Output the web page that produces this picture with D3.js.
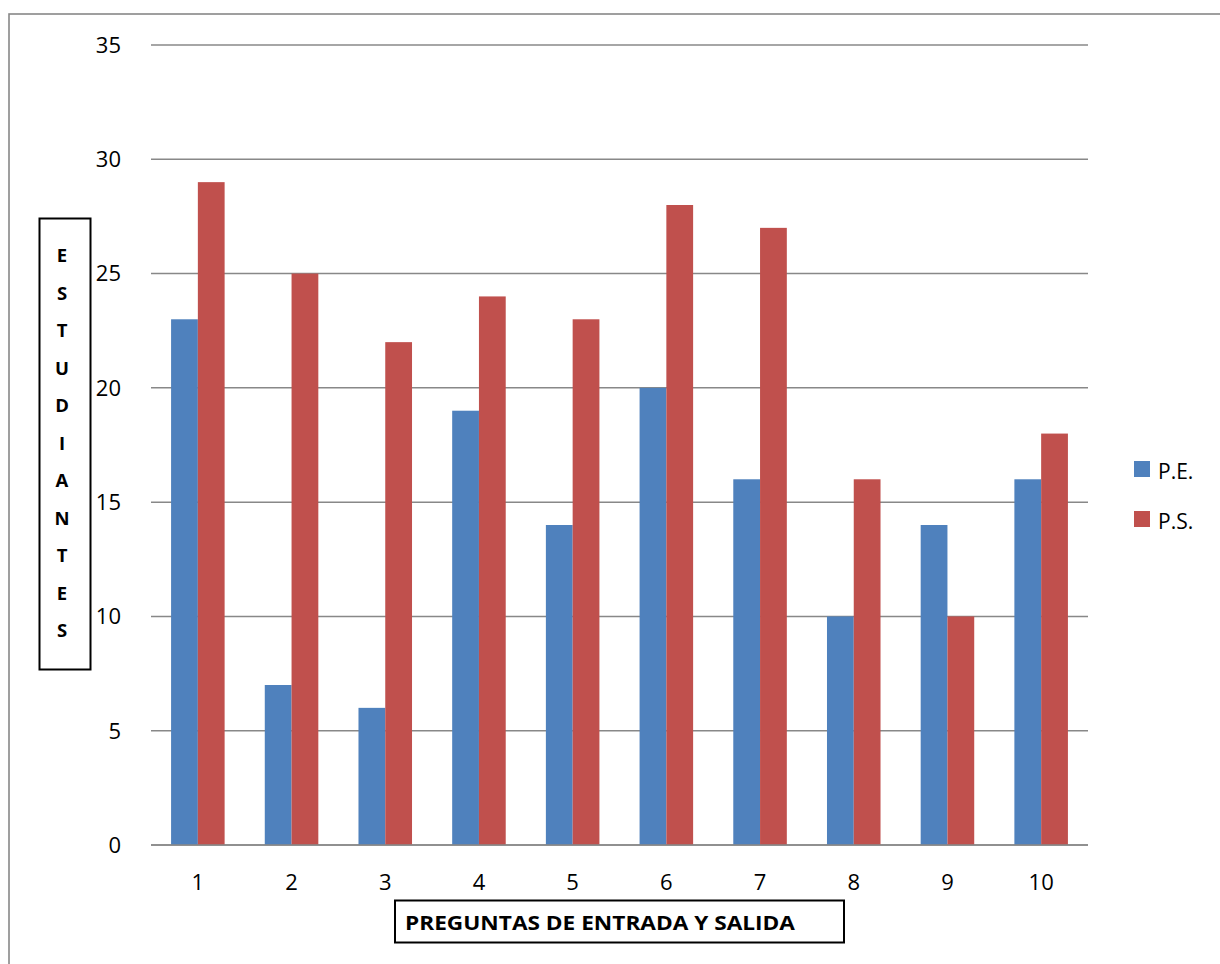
<!DOCTYPE html>
<html><head><meta charset="utf-8">
<script src="https://cdn.jsdelivr.net/npm/d3@7"></script>
<style>body{margin:0;background:#fff}svg{display:block}</style>
</head><body>
<script>
const categories = ["1","2","3","4","5","6","7","8","9","10"];
const seriesNames = ["P.E.","P.S."];
const peValues = [23,7,6,19,14,20,16,10,14,16];
const psValues = [29,25,22,24,23,28,27,16,10,18];
const yTicks = [0,5,10,15,20,25,30,35];
const colors = ["#4F81BD","#C0504D"];
const yTitle = "ESTUDIANTES";
const xTitle = "PREGUNTAS DE ENTRADA Y SALIDA";

(function(){
const W=1220,H=964;
const svg=d3.select("body").append("svg").attr("width",W).attr("height",H);
const font="'Open Sans', sans-serif";

// outer border (top & left visible)
svg.append("rect").attr("x",9).attr("y",14).attr("width",1300).attr("height",1100)
  .attr("fill","none").attr("stroke","#888").attr("stroke-width",1.6);

const pL=151,pR=1088,pT=45,pB=845;
const x=d3.scaleBand().domain(categories).range([pL,pR]);
const y=d3.scaleLinear().domain([0,35]).range([pB,pT]);
const inner=d3.scaleBand().domain([0,1]).range([0,x.bandwidth()]).paddingInner(0).paddingOuter(0.75);

// gridlines
svg.append("g").selectAll("line").data(yTicks).join("line")
  .attr("x1",pL).attr("x2",pR).attr("y1",d=>y(d)).attr("y2",d=>y(d))
  .attr("stroke","#888").attr("stroke-width",1.5);

// y tick labels
svg.append("g").selectAll("text").data(yTicks).join("text")
  .attr("x",121).attr("y",d=>y(d)).attr("dy","0.36em").attr("text-anchor","end")
  .attr("font-family",font).attr("font-size",22).attr("fill","#000").text(d=>d);

// bars
const data=[peValues,psValues];
data.forEach((vals,si)=>{
  svg.append("g").selectAll("rect").data(vals).join("rect")
    .attr("x",(d,i)=>x(categories[i])+inner(si))
    .attr("width",inner.bandwidth())
    .attr("y",d=>y(d)).attr("height",d=>y(0)-y(d))
    .attr("fill",colors[si]);
});
svg.append("line").attr("x1",pL).attr("x2",pR).attr("y1",y(0)).attr("y2",y(0))
  .attr("stroke","#888").attr("stroke-width",1.5);

// x labels
svg.append("g").selectAll("text").data(categories).join("text")
  .attr("x",d=>x(d)+x.bandwidth()/2).attr("y",890).attr("text-anchor","middle")
  .attr("font-family",font).attr("font-size",22).attr("fill","#000").text(d=>d);

// y title box
svg.append("rect").attr("x",39.5).attr("y",218.5).attr("width",51).attr("height",451)
  .attr("fill","none").attr("stroke","#000").attr("stroke-width",2);
svg.append("g").selectAll("text").data(yTitle.split("")).join("text")
  .attr("x",62).attr("y",(d,i)=>262+i*37.5).attr("text-anchor","middle")
  .attr("font-family",font).attr("font-weight","bold").attr("font-size",18.5).attr("fill","#000").text(d=>d);

// x title box
svg.append("rect").attr("x",395).attr("y",900.5).attr("width",449).attr("height",42)
  .attr("fill","none").attr("stroke","#000").attr("stroke-width",2);
svg.append("text").attr("x",405).attr("y",930).attr("font-family",font).attr("font-weight","bold")
  .attr("font-size",20).attr("fill","#000").attr("textLength",390).attr("lengthAdjust","spacingAndGlyphs").text(xTitle);

// legend
const lg=svg.append("g").selectAll("g").data(seriesNames).join("g")
  .attr("transform",(d,i)=>`translate(1134,${461+i*50})`);
lg.append("rect").attr("width",16).attr("height",16).attr("fill",(d,i)=>colors[i]);
lg.append("text").attr("x",24).attr("y",18).attr("font-family",font).attr("font-size",21).attr("fill","#000").text(d=>d);
})();
</script>
</body></html>
